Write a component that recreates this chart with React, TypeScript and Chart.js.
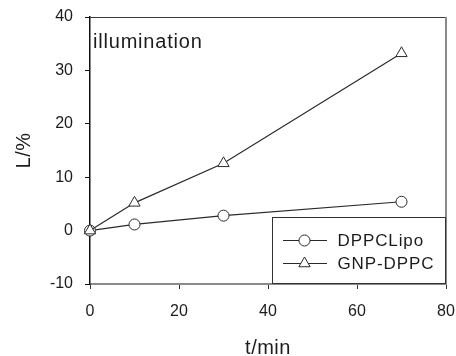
import React, { useEffect, useRef } from 'react';
import { Chart, registerables } from 'chart.js';

Chart.register(...registerables);

// ---- data ----
const timeMin = [0, 10, 30, 70];
const dppcLipo = [0, 1.15, 2.8, 5.4];
const gnpDppc = [0, 5.2, 12.6, 33.2];
const xTicks = [0, 20, 40, 60, 80];
const yTicks = [-10, 0, 10, 20, 30, 40];
const seriesNames = ['DPPCLipo', 'GNP-DPPC'];
const annotationText = 'illumination';
const xTitle = 't/min';
const yTitle = 'L/%';

const FONT = "'Liberation Sans', Arial, Helvetica, sans-serif";
const INK = '#1c1c1c';
const LINE = '#2a2a2a';

function drawMarker(ctx: CanvasRenderingContext2D, style: string, x: number, y: number, r: number) {
  ctx.beginPath();
  if (style === 'circle') {
    ctx.arc(x, y, r, 0, Math.PI * 2);
  } else {
    let rad = 0;
    const step = (Math.PI * 2) / 3;
    ctx.moveTo(x + Math.sin(rad) * r, y - Math.cos(rad) * r);
    rad += step;
    ctx.lineTo(x + Math.sin(rad) * r, y - Math.cos(rad) * r);
    rad += step;
    ctx.lineTo(x + Math.sin(rad) * r, y - Math.cos(rad) * r);
    ctx.closePath();
  }
  ctx.fillStyle = '#ffffff';
  ctx.fill();
  ctx.strokeStyle = LINE;
  ctx.lineWidth = 1;
  ctx.stroke();
}

export default function App() {
  const ref = useRef<HTMLCanvasElement>(null);

  useEffect(() => {
    const canvas = ref.current;
    if (!canvas) return;

    const styles = ['circle', 'triangle'];
    const radii = [5.5, 6.5];

    const decor = {
      id: 'decor',
      afterDatasetsDraw(chart: any) {
        const ctx: CanvasRenderingContext2D = chart.ctx;
        const a = chart.chartArea;
        ctx.save();
        // top frame line
        ctx.strokeStyle = '#3a3a3a';
        ctx.lineWidth = 1;
        ctx.beginPath();
        ctx.moveTo(a.left, a.top + 0.5);
        ctx.lineTo(a.right, a.top + 0.5);
        ctx.stroke();
        // right frame line
        ctx.strokeStyle = '#8a8a8a';
        ctx.lineWidth = 2;
        ctx.beginPath();
        ctx.moveTo(a.right, a.top);
        ctx.lineTo(a.right, a.bottom);
        ctx.stroke();

        // annotation
        ctx.fillStyle = INK;
        ctx.font = `20px ${FONT}`;
        (ctx as any).letterSpacing = '0.8px';
        ctx.textAlign = 'left';
        ctx.textBaseline = 'alphabetic';
        ctx.fillText(annotationText, a.left + 3, a.top + 31);

        // legend box
        const bw = 173;
        const bh = 66;
        const bx = a.right - bw - 0.5;
        const by = a.bottom - bh - 0.5;
        ctx.fillStyle = '#ffffff';
        ctx.fillRect(bx, by, bw, bh);
        ctx.strokeStyle = '#333333';
        ctx.lineWidth = 1;
        ctx.strokeRect(bx, by, bw, bh);
        ctx.font = `17px ${FONT}`;
        (ctx as any).letterSpacing = '0.9px';
        ctx.textBaseline = 'middle';
        seriesNames.forEach((name, i) => {
          const cy = by + 23 + i * 23;
          ctx.strokeStyle = LINE;
          ctx.lineWidth = 1.2;
          ctx.beginPath();
          ctx.moveTo(bx + 10.5, cy);
          ctx.lineTo(bx + 54.5, cy);
          ctx.stroke();
          drawMarker(ctx, styles[i], bx + 32, cy, radii[i]);
          ctx.fillStyle = INK;
          ctx.fillText(name, bx + 65, cy + 1);
        });

        // axis titles
        (ctx as any).letterSpacing = '0.5px';
        ctx.font = `20px ${FONT}`;
        ctx.fillStyle = INK;
        ctx.textAlign = 'center';
        ctx.textBaseline = 'alphabetic';
        ctx.fillText(xTitle, (a.left + a.right) / 2, 354);
        ctx.save();
        ctx.translate(30, (a.top + a.bottom) / 2);
        ctx.rotate(-Math.PI / 2);
        ctx.fillText(yTitle, 0, 0);
        ctx.restore();
        (ctx as any).letterSpacing = '0px';
        ctx.restore();
      },
    };

    const chart = new Chart(canvas, {
      type: 'line',
      data: {
        datasets: [
          {
            label: seriesNames[0],
            data: timeMin.map((t, i) => ({ x: t, y: dppcLipo[i] })),
            borderColor: LINE,
            borderWidth: 1.2,
            pointStyle: 'circle',
            pointRadius: radii[0],
            pointBackgroundColor: '#ffffff',
            pointBorderColor: LINE,
            pointBorderWidth: 1,
            tension: 0,
            clip: false as any,
            order: 1,
          },
          {
            label: seriesNames[1],
            data: timeMin.map((t, i) => ({ x: t, y: gnpDppc[i] })),
            borderColor: LINE,
            borderWidth: 1.2,
            pointStyle: 'triangle',
            pointRadius: radii[1],
            pointBackgroundColor: '#ffffff',
            pointBorderColor: LINE,
            pointBorderWidth: 1,
            tension: 0,
            clip: false as any,
            order: 0,
          },
        ],
      },
      options: {
        responsive: false,
        animation: false,
        devicePixelRatio: 1,
        layout: { padding: { top: 17, right: 10, left: 0, bottom: 0 } },
        plugins: { legend: { display: false }, tooltip: { enabled: false } },
        scales: {
          x: {
            type: 'linear',
            position: 'bottom',
            min: xTicks[0],
            max: xTicks[xTicks.length - 1],
            afterFit: (s: any) => {
              s.height = 72;
              s.paddingLeft = 0;
              s.paddingRight = 0;
            },
            afterBuildTicks: (s: any) => {
              s.ticks = xTicks.map((v) => ({ value: v }));
            },
            grid: { drawOnChartArea: false, drawTicks: true, tickLength: 5, color: '#333', lineWidth: 1 },
            border: { display: true, color: '#8a8a8a', width: 2 },
            ticks: { font: { family: FONT, size: 16 }, color: INK, padding: 13, maxRotation: 0, autoSkip: false },
          },
          y: {
            type: 'linear',
            position: 'left',
            min: yTicks[0],
            max: yTicks[yTicks.length - 1],
            afterFit: (s: any) => {
              s.width = 90;
              s.paddingTop = 0;
              s.paddingBottom = 0;
            },
            afterBuildTicks: (s: any) => {
              s.ticks = yTicks.map((v) => ({ value: v }));
            },
            grid: { drawOnChartArea: false, drawTicks: true, tickLength: 5, color: '#111', lineWidth: 1 },
            border: { display: true, color: '#111', width: 1.5 },
            ticks: { font: { family: FONT, size: 16 }, color: INK, padding: 12, autoSkip: false },
          },
        },
      },
      plugins: [decor],
    });

    return () => chart.destroy();
  }, []);

  return (
    <canvas
      ref={ref}
      width={456}
      height={356}
      style={{ position: 'fixed', left: 0, top: 0, width: 456, height: 356, display: 'block', background: '#fff' }}
    />
  );
}
